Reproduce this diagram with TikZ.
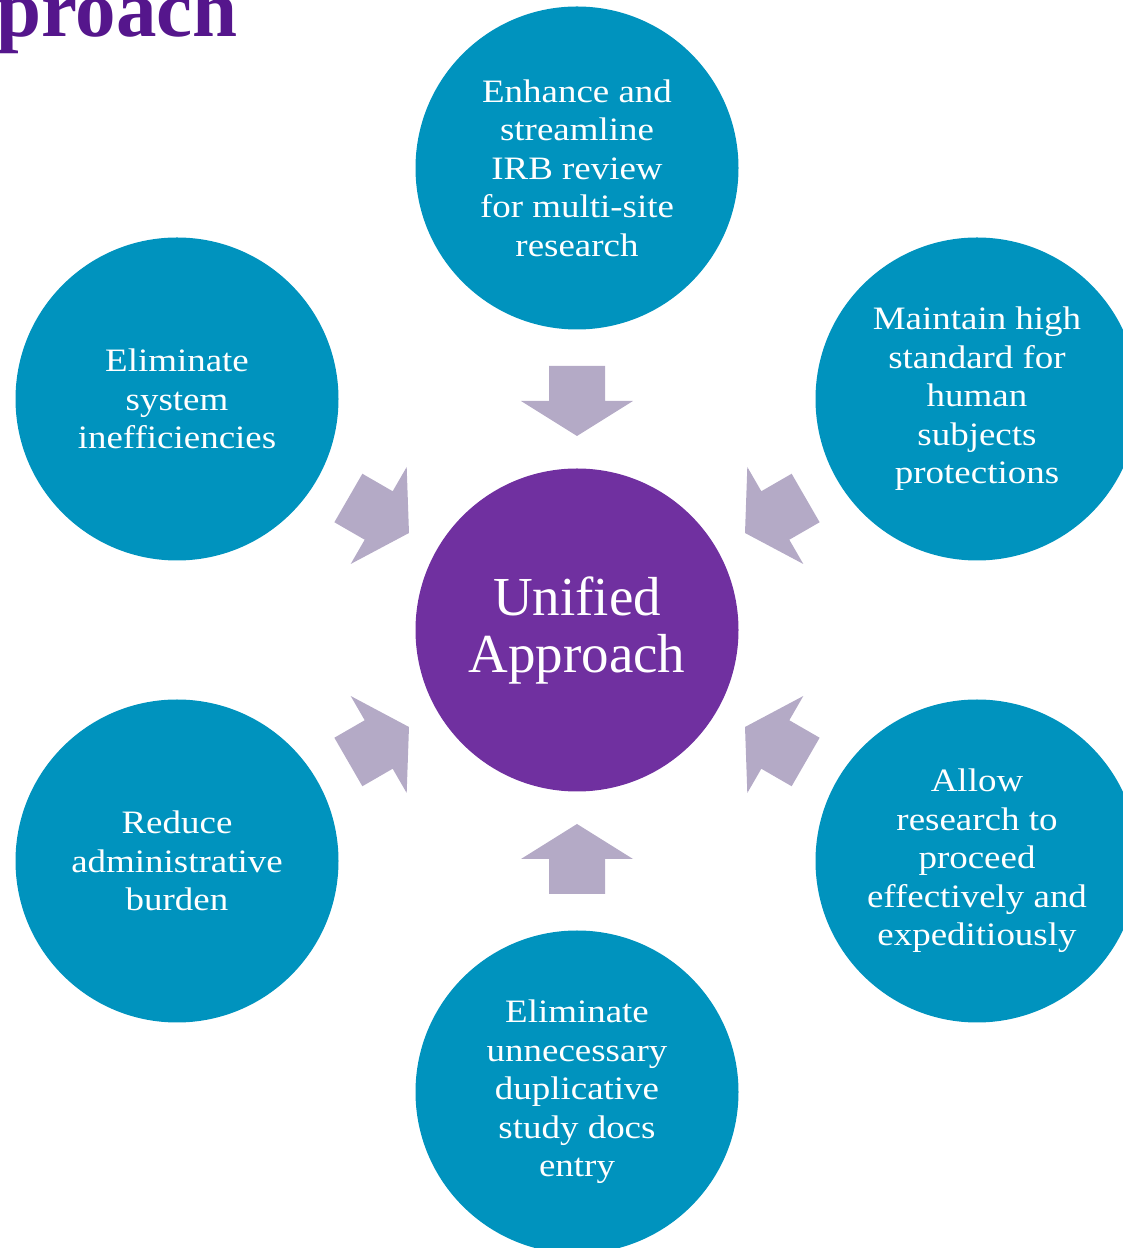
\documentclass[tikz,border=0pt]{standalone}
\usepackage{fontspec}
\setmainfont{Liberation Serif}
\newfontfamily\circfont{Liberation Serif}[FakeStretch=1.13]
\definecolor{tealc}{HTML}{0093BE}
\definecolor{purplec}{HTML}{7030A0}
\definecolor{arrowc}{HTML}{B4AAC6}
\definecolor{titlec}{HTML}{55168C}
\begin{document}
\begin{tikzpicture}[x=1pt,y=1pt,
  goal/.style={circle, fill=tealc, minimum size=323pt, inner sep=0pt, text=white, align=center,
    font=\circfont\fontsize{32.7}{38.5}\selectfont},
  hub/.style={circle, fill=purplec, minimum size=323pt, inner sep=0pt, text=white, align=center,
    font=\fontsize{55}{57}\selectfont},
  blockarrow/.style={fill=arrowc},
  titletext/.style={font=\bfseries\fontsize{81}{84}\selectfont, text=titlec, anchor=base west, inner sep=0pt}]
\useasboundingbox (0,0) rectangle (1123,1248);
\clip (0,0) rectangle (1123,1248);
\node[titletext] (title) at (-4,1211) {proach};
\node[hub] (c) at (577,618) {Unified\\Approach};
\node[goal] (g1) at (577,1080) {Enhance and\\streamline\\IRB review\\for multi-site\\research};
\node[goal] (g2) at (977,849) {Maintain high\\standard for\\human\\subjects\\protections};
\node[goal] (g3) at (977,387) {Allow\\research to\\proceed\\effectively and\\expeditiously};
\node[goal] (g4) at (577,156) {Eliminate\\unnecessary\\duplicative\\study docs\\entry};
\node[goal] (g5) at (177,387) {Reduce\\administrative\\burden};
\node[goal] (g6) at (177,849) {Eliminate\\system\\inefficiencies};
\foreach \a in {30,90,150,210,270,330}
  \fill[blockarrow, shift={(c.center)}, rotate=\a]
    (264,28) -- (229,28) -- (229,56) -- (194,0) -- (229,-56) -- (229,-28) -- (264,-28) -- cycle;
\end{tikzpicture}
\end{document}
